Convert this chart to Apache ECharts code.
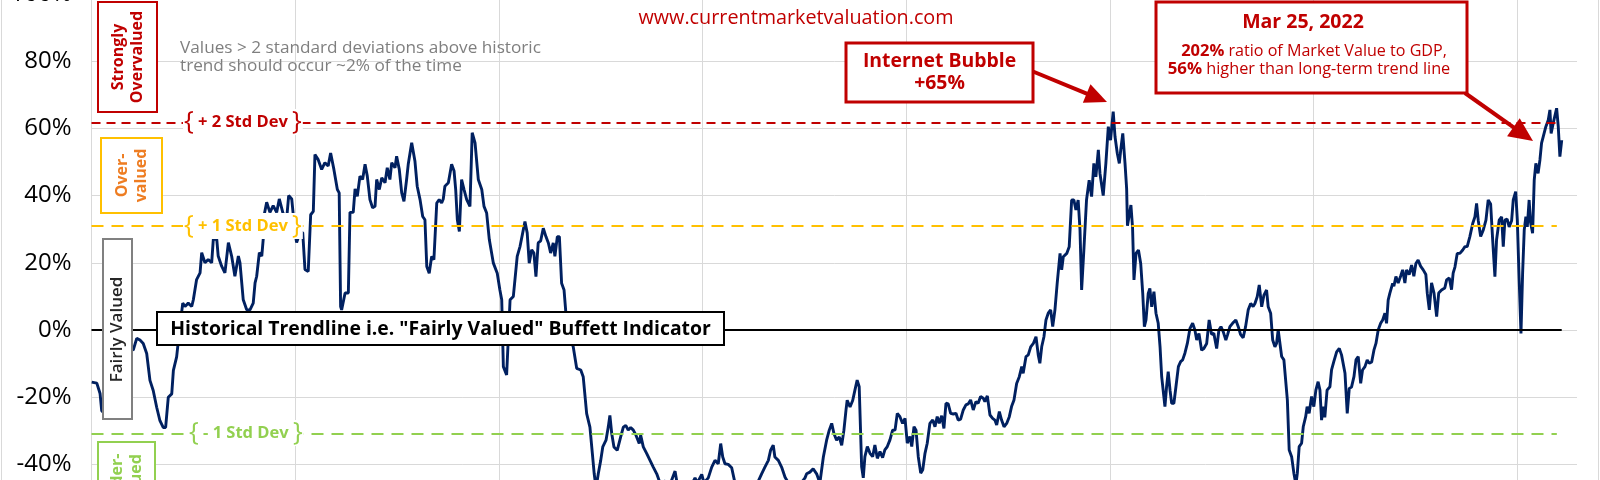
<!DOCTYPE html>
<html><head><meta charset="utf-8">
<script src="https://cdn.jsdelivr.net/npm/echarts/dist/echarts.min.js"></script>
<style>html,body{margin:0;padding:0;background:#fff}#c{width:1600px;height:480px}</style>
</head><body><div id="c"></div>
<script>
// ---- data: deviation of Buffett Indicator from its historical trend (%), by decimal year
const years = [
1950.01,1950.26,1950.42,1950.50,1950.66,1950.91,1951.20,1951.50,1951.79,1952.05,1952.22,1952.38,1952.54,1952.71,1952.87,1953.03,1953.20,1953.36,1953.52,1953.64,1953.77,1953.94,1954.02,1954.18,1954.34,1954.48,1954.59,1954.75,1954.92,1955.00,1955.16,1955.33,1955.41,1955.57,1955.73,1955.90,1955.98,1956.15,1956.22,1956.39,1956.55,1956.72,1956.88,1957.04,1957.21,1957.29,1957.45,1957.62,1957.78,1957.94,1958.03,1958.11,1958.24,1958.36,1958.43,1958.47,1958.60,1958.76,1958.92,1959.09,1959.22,1959.39,1959.58,1959.68,1959.83,1959.99,
1960.07,1960.24,1960.37,1960.48,1960.64,1960.76,1960.89,1960.97,1961.13,1961.30,1961.46,1961.62,1961.74,1961.90,1962.07,1962.16,1962.23,1962.28,1962.45,1962.61,1962.69,1962.85,1962.94,1963.05,1963.18,1963.31,1963.43,1963.54,1963.67,1963.80,1963.92,1964.00,1964.13,1964.25,1964.41,1964.52,1964.65,1964.74,1964.90,1964.98,1965.11,1965.23,1965.34,1965.47,1965.55,1965.72,1965.88,1965.99,1966.13,1966.26,1966.37,1966.46,1966.58,1966.70,1966.81,1966.95,1967.07,1967.19,1967.27,1967.35,1967.52,1967.68,1967.80,1967.88,1967.96,1968.06,1968.17,1968.29,1968.42,1968.58,1968.69,1968.83,1968.99,1969.16,1969.27,1969.40,1969.53,1969.73,1969.92,
1970.05,1970.14,1970.22,1970.38,1970.55,1970.71,1970.90,1971.04,1971.17,1971.28,1971.39,1971.49,1971.61,1971.72,1971.82,1971.93,1972.05,1972.18,1972.31,1972.43,1972.54,1972.67,1972.75,1972.87,1972.97,1973.08,1973.20,1973.29,1973.41,1973.65,1973.82,1974.02,1974.14,1974.31,1974.47,1974.59,1974.68,1974.77,1974.88,1975.00,1975.10,1975.26,1975.37,1975.45,1975.54,1975.65,1975.81,1975.98,1976.11,1976.23,1976.35,1976.47,1976.60,1976.73,1976.89,1976.96,1977.09,1977.26,1977.42,1977.58,1977.75,1977.91,1978.15,1978.40,1978.65,1978.76,1979.04,1979.38,1979.63,1979.74,1979.96,
1980.07,1980.28,1980.45,1980.61,1980.77,1980.89,1980.99,1981.10,1981.26,1981.43,1981.59,1981.84,1982.17,1982.49,1982.66,1982.90,1983.06,1983.23,1983.34,1983.47,1983.55,1983.72,1983.88,1984.05,1984.21,1984.45,1984.78,1985.03,1985.11,1985.27,1985.43,1985.60,1985.76,1985.93,1986.09,1986.22,1986.34,1986.45,1986.58,1986.71,1986.83,1986.94,1987.04,1987.10,1987.24,1987.37,1987.48,1987.59,1987.69,1987.81,1987.89,1987.97,1988.09,1988.22,1988.35,1988.46,1988.58,1988.71,1988.84,1988.95,1989.07,1989.20,1989.33,1989.45,1989.56,1989.69,1989.82,1989.94,
1990.05,1990.18,1990.27,1990.38,1990.48,1990.59,1990.71,1990.81,1990.92,1991.03,1991.16,1991.30,1991.41,1991.52,1991.62,1991.74,1991.85,1991.95,1992.06,1992.18,1992.31,1992.44,1992.55,1992.67,1992.80,1992.93,1993.04,1993.16,1993.29,1993.42,1993.53,1993.65,1993.78,1993.86,1993.98,1994.11,1994.24,1994.35,1994.44,1994.57,1994.68,1994.80,1994.93,1995.06,1995.17,1995.29,1995.42,1995.55,1995.67,1995.74,1995.88,1995.99,1996.11,1996.24,1996.37,1996.48,1996.56,1996.65,1996.76,1996.86,1996.97,1997.09,1997.19,1997.30,1997.41,1997.55,1997.63,1997.71,1997.88,1998.00,1998.12,1998.23,1998.33,1998.44,1998.53,1998.61,1998.72,1998.85,1998.98,1999.10,1999.21,1999.31,1999.43,1999.51,1999.67,1999.80,1999.92,
2000.03,2000.16,2000.25,2000.36,2000.46,2000.53,2000.63,2000.74,2000.82,2000.86,2000.96,2001.03,2001.11,2001.18,2001.28,2001.40,2001.51,2001.61,2001.69,2001.77,2001.88,2001.96,2002.05,2002.16,2002.26,2002.37,2002.46,2002.54,2002.62,2002.70,2002.78,2002.86,2002.95,2003.03,2003.14,2003.24,2003.36,2003.47,2003.57,2003.68,2003.80,2003.93,2004.06,2004.17,2004.26,2004.37,2004.50,2004.61,2004.75,2004.87,2004.99,2005.10,2005.24,2005.35,2005.45,2005.56,2005.69,2005.78,2005.89,2006.02,2006.18,2006.30,2006.41,2006.54,2006.66,2006.79,2006.91,2007.03,2007.12,2007.23,2007.33,2007.45,2007.56,2007.69,2007.77,2007.89,2007.99,2008.10,2008.18,2008.26,2008.34,2008.43,2008.54,2008.63,2008.71,2008.80,2008.92,2009.03,2009.13,2009.20,2009.29,2009.41,2009.49,2009.61,2009.68,2009.78,2009.90,
2010.01,2010.11,2010.22,2010.31,2010.39,2010.47,2010.55,2010.66,2010.80,2010.88,2010.99,2011.13,2011.26,2011.37,2011.54,2011.65,2011.75,2011.86,2011.98,2012.08,2012.19,2012.31,2012.40,2012.52,2012.63,2012.73,2012.85,2012.96,2013.06,2013.17,2013.29,2013.39,2013.50,2013.58,2013.66,2013.74,2013.88,2013.94,2014.04,2014.15,2014.27,2014.37,2014.48,2014.56,2014.69,2014.81,2014.92,2015.02,2015.13,2015.25,2015.38,2015.51,2015.58,2015.68,2015.79,2015.91,2016.04,2016.14,2016.28,2016.44,2016.53,2016.66,2016.77,2016.85,2016.94,2017.05,2017.18,2017.32,2017.43,2017.54,2017.67,2017.81,2017.92,2018.00,2018.08,2018.20,2018.33,2018.46,2018.57,2018.69,2018.79,2018.90,2018.98,2019.11,2019.23,2019.31,2019.39,2019.50,2019.60,2019.72,2019.80,2019.92,
2020.00,2020.08,2020.18,2020.26,2020.34,2020.42,2020.49,2020.58,2020.65,2020.75,2020.83,2020.91,2021.02,2021.11,2021.19,2021.27,2021.40,2021.52,2021.60,2021.66,2021.76,2021.84,2021.93,2022.01,2022.09,2022.18
];
const deviation = [
-15.5,-15.8,-18.9,-24,-25,-17,-10,-7,-5,-6,-2.5,-3,-4,-7,-15,-18,-23,-27,-29,-29,-20,-19,-12,-8,1,8,7,8,7,9,15,17,23,20,21,20,27,27,22,19,17,26,22,16,22,20,9,6,6,8,14,16,23,22,27,34,38,35,37,35,39,35,33,40,39,29,
26,29,29,18,17.4,34.3,35.3,52.2,50.7,47.8,49.8,48.8,52.7,47.8,41.8,40.8,7,6,11,11,35,35,42,39.8,45.8,44.8,49.3,45.8,38.8,36.4,36.8,44.8,41.8,45.3,43.8,48.3,44.8,49.8,48.3,51.7,47.8,40.8,38.3,44.8,49.3,55.7,50.2,42.8,38.8,33.8,32.8,18.9,16.9,21.9,20.9,37.8,38.8,37.8,39,42.8,43.8,49.3,47.3,41.8,32.8,29.3,44.8,41.8,38.8,36.8,58.7,55.7,44.8,41.8,36.8,34.8,26.9,19.9,16.9,
11.9,9,-10.9,-13.4,9,10,21.9,24.9,28.9,32.3,28.9,19.9,23.9,22.9,15.9,25.9,26.5,30.3,27.8,25.9,22.9,25.9,21.9,27.8,27.8,13.9,11.9,5,-1,-5,-11.4,-11.9,-13.9,-24.9,-28.9,-36.8,-42.8,-47,-42.8,-38.8,-34.8,-32.8,-28.9,-25.4,-30.8,-34.8,-35.8,-31.8,-28.9,-28.4,-29.8,-29,-29.8,-31.3,-33.8,-31.3,-34.8,-36.8,-38.8,-40.8,-42.8,-45.5,-45,-46,-42,-46,-47,-47,-44,-45.5,-43,
-45.5,-44,-40.8,-38.8,-39.8,-33.8,-37.8,-39.8,-40,-41,-45.5,-48,-49,-48,-46,-42.8,-40.8,-38.8,-35.8,-34.3,-37.8,-38.8,-40.8,-43.8,-45.5,-47,-46,-44,-42.8,-42.3,-41.3,-42.8,-45.5,-37.8,-32.8,-29.8,-27.8,-30.8,-32.8,-31.8,-34.3,-29.8,-23.9,-20.9,-22.9,-21,-17.9,-14.9,-16.9,-40.7,-44,-37.7,-34.7,-36.7,-37.7,-34.2,-38.2,-36.2,-38,-35.7,-34.7,-32.7,-29.8,-29.8,-24.8,-25.8,-27.8,-26.3,
-33.7,-31.7,-34.7,-28.8,-29.8,-37.7,-42.6,-41.6,-36.7,-33.7,-27.8,-26.8,-28.8,-25.8,-27.8,-25.5,-29.3,-21.8,-22,-24.8,-25,-24.8,-26.8,-26.5,-23.8,-22.3,-22,-20.8,-23.8,-21.3,-21.8,-19.8,-20.3,-21.3,-19.6,-25.3,-26.3,-26.8,-28.3,-24.3,-26.8,-28.8,-27.8,-25.8,-22.8,-20.8,-15.9,-13.9,-10.9,-12.9,-7.9,-7.4,-5,-4,-2,-7.4,-9.9,-5,-2,3,5,6,1,6,13.9,22.8,17.9,21.8,22.8,24.8,38.7,38.7,35.7,38.7,29.8,11.9,23.8,38.7,44.6,39.7,49.6,45.6,53.6,46.6,40,49.6,60.5,
56.5,65,57.5,52.6,49.6,53.6,58.5,49.6,42,31,34.7,37.2,30.5,14.9,22.8,23.8,19.8,10.9,1,3,10.9,12.4,6.9,11.4,5,2,-5,-13.9,-13.9,-22.8,-16.9,-12.4,-17.9,-21.8,-21.8,-16.9,-10.9,-9.4,-8.9,-6.9,-4,0.5,2,0,-3,-1,-6,-5.5,-4,3,-1.3,-1,-5.5,0,1,-0.5,-3,-1.3,1,2,3,1,-1.3,-2.3,1,6,7.9,7,7.9,9.9,13.4,6.9,10.4,11.9,6.9,5,-3,-5,-4,0,0.5,-7.9,-8.9,-8.9,-20.8,-35.7,-37.7,-42.6,-46,-42.6,-34.7,-33.7,-28.8,-25.8,-22.8,-24.8,-19.8,
-22.8,-17.9,-15.4,-17.9,-26.8,-22.8,-26,-17.9,-16.9,-11.9,-9.4,-6.5,-5.5,-7.4,-12.9,-24.8,-17.4,-17,-13.9,-8.9,-7.9,-15.9,-11.9,-10.9,-8.9,-9.9,-9.5,-6,-4,0,2,3,5,2,8.9,10.9,13.9,13,15.9,14,16,17.9,14,17.9,16.5,19.3,16,19.8,20.8,19,17.9,16.5,10.9,6,14,11,4,11,11.9,12.5,14.9,15.5,12,16.9,18.8,22.8,22.8,23.8,24.8,24.8,27.8,31.7,33.7,37.7,32.7,27.8,29.8,32.7,38.7,37.5,26.8,15.9,26.8,32.7,33.7,24.8,32.7,33,30.7,32.5,38.7,41.2,
32.7,16.9,-1,16.9,29.8,33.7,30.7,38.7,32,28.8,44.6,49.6,46.6,50.6,55.6,57.5,60.5,62.5,65.5,58.5,61.5,61.5,66,60.5,51.6,56.5
];
// reference levels (% deviation from trend)
const stdDevLevels = [61.8, 30.9, -30.8];
const stdDevNames = ['+ 2 Std Dev', '+ 1 Std Dev', '- 1 Std Dev'];
const trendLevel = 0;
const xStart = 1950, xEnd = 2022.93, bandEnd = 2021.94, trendEnd = 2022.18;
const yMin = -60, yMax = 100, yStep = 20, xStep = 10;

const RED = '#c00000', GOLD = '#ffc000', GREEN = '#92d050', NAVY = '#002060', ORANGE = '#ee7d22';
const FONT = "'Open Sans', sans-serif";
const bandColors = [RED, GOLD, GREEN];
const bandDash = [[9, 6], [12, 8], [12, 8]];

const seriesData = years.map((y, i) => [y, deviation[i]]);

const markLines = stdDevLevels.map((v, i) => [
  {coord: [xStart, v], lineStyle: {color: bandColors[i], width: 2.2, type: bandDash[i]}},
  {coord: [bandEnd, v]}
]);
markLines.push([
  {coord: [xStart, trendLevel], lineStyle: {color: '#000', width: 2, type: 'solid'}},
  {coord: [trendEnd, trendLevel]}
]);

function rect(x, y, w, h, stroke, lw) {
  return {type: 'rect', shape: {x, y, width: w, height: h}, style: {fill: '#fff', stroke, lineWidth: lw}, z: 100, silent: true};
}
function txt(x, y, text, color, size, weight, opts) {
  return Object.assign({type: 'text', x, y, z: 101, silent: true,
    style: Object.assign({text, fill: color, font: `${weight} ${size}px ${FONT}`, align: 'center', verticalAlign: 'middle'}, (opts && opts.style) || {})},
    opts && opts.rotation ? {rotation: opts.rotation} : {});
}
function arrow(x1, y1, x2, y2, color, lw, headLen, headHalf) {
  const dx = x2 - x1, dy = y2 - y1, L = Math.hypot(dx, dy), ux = dx / L, uy = dy / L;
  const bx = x2 - ux * headLen, by = y2 - uy * headLen;
  return [
    {type: 'line', shape: {x1, y1, x2: bx + ux * 2, y2: by + uy * 2}, style: {stroke: color, lineWidth: lw}, z: 102, silent: true},
    {type: 'polygon', shape: {points: [[x2, y2], [bx - uy * headHalf, by + ux * headHalf], [bx + uy * headHalf, by - ux * headHalf]]}, style: {fill: color}, z: 102, silent: true}
  ];
}
function stdLabel(x, y, name, color) {
  return {type: 'text', x, y, z: 101, silent: true, style: {
    text: '{' + '{t| ' + name + ' }' + '}', fill: color, font: `normal 26px ${FONT}`, align: 'left', verticalAlign: 'middle',
    backgroundColor: '#fff', padding: [0, 1],
    rich: {t: {fill: color, font: `bold 16.5px ${FONT}`, verticalAlign: 'middle'}}
  }};
}

const V = Math.PI / 2;
const graphics = [
  {type: 'rect', shape: {x: 1.5, y: -2, width: 1597, height: 484}, style: {fill: 'none', stroke: '#d9d9d9', lineWidth: 1}, z: 90, silent: true},
  // valuation band boxes
  rect(98, 2, 59, 110, RED, 2),
  txt(127.5, 57, 'Strongly\nOvervalued', RED, 16, 'bold', {rotation: V, style: {lineHeight: 19}}),
  rect(101, 138, 61, 75, GOLD, 2),
  txt(131.5, 175.5, 'Over-\nvalued', ORANGE, 16, 'bold', {rotation: V, style: {lineHeight: 19}}),
  rect(103, 239, 29, 180, '#808080', 2),
  txt(117.5, 329.5, 'Fairly Valued', '#262626', 17, '600', {rotation: V}),
  rect(98, 442, 57, 75, GREEN, 2),
  txt(126.5, 481, 'Under-\nvalued', GREEN, 16, 'bold', {rotation: V, style: {lineHeight: 19}}),
  // std dev labels
  stdLabel(183, 122, stdDevNames[0], RED),
  stdLabel(183, 226, stdDevNames[1], GOLD),
  stdLabel(188, 433, stdDevNames[2], GREEN),
  // trendline label
  rect(157, 312, 567, 33, '#000', 2),
  txt(440.5, 329, 'Historical Trendline i.e. "Fairly Valued" Buffett Indicator', '#000', 19.4, 'bold'),
  // note + url
  txt(180, 57, 'Values > 2 standard deviations above historic\ntrend should occur ~2% of the time', '#7f7f7f', 17.2, 'normal', {style: {align: 'left', lineHeight: 18}}),
  txt(796, 18, 'www.currentmarketvaluation.com', RED, 19.8, 'normal'),
  // internet bubble callout
  rect(846, 43, 187, 59, RED, 3),
  txt(939.5, 72.5, 'Internet Bubble\n+65%', RED, 19.4, 'bold', {style: {lineHeight: 22}}),
  ...arrow(1033, 71.5, 1107, 102, RED, 4, 22, 10),
  // latest value callout
  rect(1156, 2, 311, 91, RED, 3),
  txt(1303, 22, 'Mar 25, 2022', RED, 19.5, 'bold'),
  {type: 'text', x: 1314, y: 51, z: 101, silent: true, style: {
    text: '{b|202%} ratio of Market Value to GDP,', fill: RED, font: `normal 16.1px ${FONT}`, align: 'center', verticalAlign: 'middle',
    rich: {b: {fill: RED, font: `bold 16.5px ${FONT}`}}}},
  {type: 'text', x: 1309, y: 69, z: 101, silent: true, style: {
    text: '{b|56%} higher than long-term trend line', fill: RED, font: `normal 16.3px ${FONT}`, align: 'center', verticalAlign: 'middle',
    rich: {b: {fill: RED, font: `bold 16.8px ${FONT}`, verticalAlign: 'bottom'}}}},
  ...arrow(1465, 93, 1533, 141, RED, 4, 24, 11)
];

const chart = echarts.init(document.getElementById('c'), null, {renderer: 'canvas'});
chart.setOption({
  animation: false,
  backgroundColor: '#fff',
  grid: {left: 91.5, right: 23, top: -6, bottom: -51.6, outerBoundsMode: 'none', containLabel: false},
  xAxis: {type: 'value', min: xStart, max: xEnd, interval: xStep,
    axisLine: {show: false}, axisTick: {show: false}, axisLabel: {show: false},
    splitLine: {show: true, showMaxLine: false, lineStyle: {color: '#d9d9d9', width: 1}}},
  yAxis: {type: 'value', min: yMin, max: yMax, interval: yStep,
    axisLine: {show: false}, axisTick: {show: false},
    axisLabel: {formatter: '{value}%', color: '#000', fontSize: 24, fontFamily: FONT, margin: 20},
    splitLine: {show: true, lineStyle: {color: '#d9d9d9', width: 1}}},
  series: [{
    type: 'line', data: seriesData, showSymbol: false, symbol: 'none',
    lineStyle: {color: NAVY, width: 2.9}, z: 3,
    markLine: {silent: true, symbol: ['none', 'none'], label: {show: false}, z: 4, data: markLines}
  }],
  graphic: {elements: graphics}
});
</script>
</body></html>
